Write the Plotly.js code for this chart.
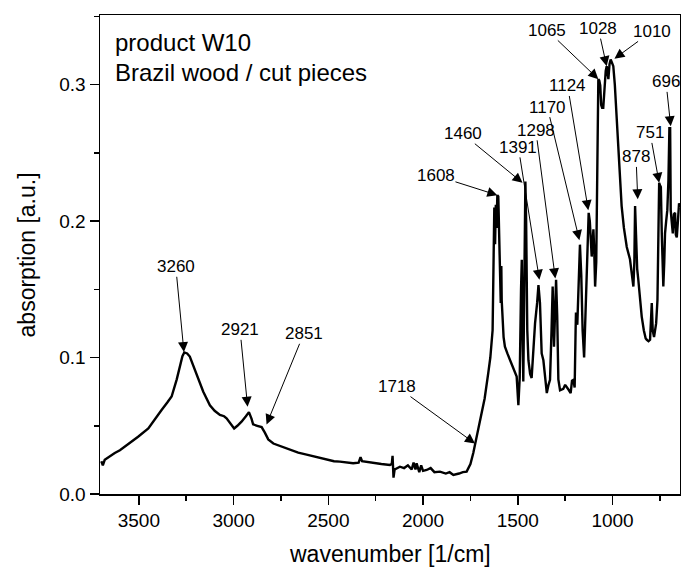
<!DOCTYPE html>
<html>
<head>
<meta charset="utf-8">
<script src="https://cdn.plot.ly/plotly-3.0.1.min.js"></script>
<style>html,body{margin:0;padding:0;background:#fff;}#chart{width:681px;height:568px;}</style>
</head>
<body>
<div id="chart"></div>
<script>
// ---- data ----
const wavenumber = [
 3698,3690,3680,3650,3627,3600,3560,3504,3450,3400,3380,3350,3327,3300,3283,3270,3260,3245,3231,3210,
 3187,3160,3125,3100,3072,3050,3037,3015,2997,2980,2958,2935,2919,2905,2897,2875,2852,2835,2817,2790,
 2747,2700,2659,2620,2588,2544,2500,2470,2439,2400,2369,2340,2330,2322,2300,2263,2220,2175,2165,2161,
 2156,2150,2122,2100,2080,2060,2050,2040,2034,2020,2010,2000,1981,1960,1940,1911,1880,1860,1840,1810,
 1790,1770,1750,1735,1726,1710,1700,1691,1675,1656,1645,1633,1628,1624,1620,1616,1612,1608,1603,1598,
 1594,1590,1587,1585,1575,1568,1555,1541,1525,1506,1497,1490,1483,1479,1475,1471,1466,1460,1456,1450,
 1444,1435,1427,1418,1409,1398,1391,1383,1374,1365,1356,1347,1338,1330,1322,1316,1309,1303,1298,1292,
 1286,1277,1260,1250,1242,1230,1221,1214,1207,1200,1195,1193,1186,1178,1172,1165,1158,1150,1142,1133,
 1126,1120,1115,1110,1105,1101,1097,1092,1086,1080,1075,1070,1065,1060,1055,1049,1043,1036,1031,1026,
 1022,1016,1010,1003,996,988,978,965,952,940,925,908,898,890,885,881,876,870,864,855,
 846,835,825,819,810,802,797,793,788,781,770,763,758,754,749,745,740,732,727,723,
 717,711,705,700,696,693,688,682,676,670,666,661,655,649,645
];
const absorption = [
 0.024,0.021,0.025,0.028,0.030,0.032,0.036,0.042,0.048,0.058,0.0616,0.067,0.0714,0.084,0.0934,0.101,0.1037,0.103,0.1007,0.093,
 0.0836,0.075,0.065,0.061,0.058,0.057,0.0555,0.051,0.048,0.050,0.053,0.057,0.060,0.055,0.051,0.050,0.049,0.045,0.040,0.037,
 0.0347,0.032,0.0303,0.029,0.0279,0.0265,0.025,0.024,0.0237,0.023,0.0225,0.023,0.027,0.024,0.0235,0.0225,0.022,0.0213,0.022,0.028,
 0.012,0.018,0.020,0.019,0.021,0.018,0.023,0.018,0.0225,0.016,0.021,0.017,0.0176,0.019,0.016,0.0164,0.015,0.016,0.0139,0.015,
 0.016,0.0164,0.022,0.030,0.036,0.045,0.052,0.059,0.070,0.0886,0.100,0.120,0.175,0.210,0.183,0.212,0.195,0.219,0.218,0.180,
 0.169,0.140,0.167,0.142,0.115,0.108,0.103,0.098,0.092,0.086,0.065,0.085,0.150,0.1717,0.120,0.0824,0.150,0.229,0.200,0.120,
 0.098,0.088,0.085,0.110,0.125,0.140,0.153,0.140,0.103,0.098,0.084,0.074,0.080,0.0836,0.120,0.152,0.108,0.130,0.157,0.130,
 0.084,0.076,0.077,0.080,0.0787,0.076,0.074,0.083,0.0836,0.078,0.120,0.133,0.124,0.165,0.1827,0.160,0.120,0.100,0.140,0.190,
 0.206,0.200,0.180,0.174,0.185,0.194,0.180,0.152,0.170,0.250,0.304,0.303,0.2995,0.285,0.283,0.283,0.300,0.310,0.3135,0.305,
 0.304,0.315,0.3184,0.316,0.3135,0.300,0.277,0.245,0.211,0.195,0.181,0.172,0.162,0.152,0.170,0.211,0.190,0.165,0.157,0.140,
 0.130,0.120,0.114,0.113,0.112,0.113,0.125,0.140,0.120,0.115,0.125,0.142,0.190,0.228,0.226,0.225,0.190,0.152,0.170,0.191,
 0.200,0.208,0.230,0.268,0.268,0.208,0.200,0.191,0.205,0.206,0.190,0.188,0.200,0.213,0.210
];
// peak labels and the point each arrow points to
const peakLabels = ['3260','2921','2851','1718','1608','1460','1391','1298','1170','1124','1065','1028','1010','878','751','696'];
const peakWn     = [3262, 2926, 2826, 1726, 1608, 1475, 1386, 1302, 1175, 1128, 1075, 1031, 990, 867, 754, 693];
const peakAbs    = [0.104, 0.064, 0.051, 0.037, 0.219, 0.228, 0.157, 0.158, 0.186, 0.208, 0.304, 0.3135, 0.319, 0.216, 0.228, 0.2695];
const xTickLabels = ['3500','3000','2500','2000','1500','1000'];
const yTickLabels = ['0.0','0.1','0.2','0.3'];
const xTitle = 'wavenumber [1/cm]';
const yTitle = 'absorption [a.u.]';

// ---- layout: where each label text sits ----
const labelPos = [
 [3305,0.1665],[2966,0.1203],[2630,0.1174],[2139,0.0787],[1932,0.2333],[1791,0.264],[1497,0.254],[1405,0.2665],
 [1344,0.2835],[1237,0.299],[1344,0.3397],[1075,0.341],[793,0.339],[876,0.247],[802,0.2646],[718,0.302]
];
const FONT = 'Arial, "Liberation Sans", sans-serif';

const annotations = peakLabels.map((t,i)=>({
  x: peakWn[i], y: peakAbs[i], xref:'x', yref:'y',
  ax: labelPos[i][0], ay: labelPos[i][1], axref:'x', ayref:'y',
  text: t, showarrow: true, arrowhead: 2, arrowsize: 2, arrowwidth: 1, arrowcolor: '#000',
  standoff: 0, startstandoff: 0, borderpad: 0,
  font: {family: FONT, size: 17, color: '#000'}
}));
annotations.push({xref:'paper', yref:'paper', x:0.022, y:0.9425, xanchor:'left', yanchor:'middle', showarrow:false,
  text:'product W10', font:{family:FONT, size:24, color:'#000'}});
annotations.push({xref:'paper', yref:'paper', x:0.022, y:0.88, xanchor:'left', yanchor:'middle', showarrow:false,
  text:'Brazil wood / cut pieces', font:{family:FONT, size:24, color:'#000'}});
// axis titles placed as paper annotations
annotations.push({xref:'paper', yref:'paper', x:0.5, y:-0.126, xanchor:'center', yanchor:'middle', showarrow:false,
  text:xTitle, font:{family:FONT, size:23, color:'#000'}});
annotations.push({xref:'paper', yref:'paper', x:-0.126, y:0.5, xanchor:'center', yanchor:'middle', showarrow:false,
  textangle:-90, text:yTitle, font:{family:FONT, size:23, color:'#000'}});

const trace = {x: wavenumber, y: absorption, type:'scatter', mode:'lines',
  line:{color:'#000', width:2.4}, hoverinfo:'skip'};

const layout = {
  width: 681, height: 568,
  margin: {l:100, r:1, t:15, b:74},
  paper_bgcolor:'#fff', plot_bgcolor:'#fff',
  showlegend:false,
  font:{family:FONT, color:'#000'},
  xaxis:{
    range:[3705, 644], autorange:false,
    tickvals:[3500,3000,2500,2000,1500,1000], ticktext:xTickLabels,
    ticks:'outside', ticklen:9, tickwidth:1.5, tickcolor:'#000',
    minor:{tickvals:[3250,2750,2250,1750,1250,750], ticks:'outside', ticklen:5, tickwidth:1.5, tickcolor:'#000'},
    showline:true, linecolor:'#000', linewidth:1.5, mirror:true,
    showgrid:false, zeroline:false,
    tickfont:{family:FONT, size:19, color:'#000'}
  },
  yaxis:{
    range:[0, 0.351], autorange:false,
    tickvals:[0,0.1,0.2,0.3], ticktext:yTickLabels,
    ticks:'outside', ticklen:9, tickwidth:1.5, tickcolor:'#000',
    minor:{tickvals:[0.05,0.15,0.25,0.35], ticks:'outside', ticklen:5, tickwidth:1.5, tickcolor:'#000'},
    showline:true, linecolor:'#000', linewidth:1.5, mirror:true,
    showgrid:false, zeroline:false,
    tickfont:{family:FONT, size:19, color:'#000'}
  },
  annotations: annotations
};
Plotly.newPlot('chart', [trace], layout, {displayModeBar:false, staticPlot:true});
</script>
</body>
</html>
